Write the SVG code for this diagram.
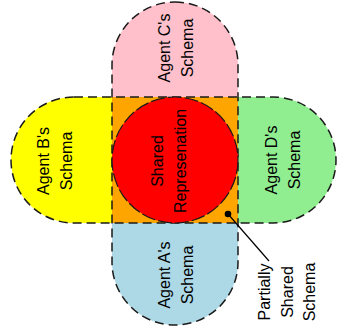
<svg xmlns="http://www.w3.org/2000/svg" width="337" height="336" viewBox="0 0 337 336">
  <style>
    .outline { fill: none; stroke: #1a1a1a; stroke-width: 1.5; stroke-dasharray: 9 5; }
    .lbl { font-family: "Liberation Sans", Arial, sans-serif; font-size: 16px; fill: #000; text-anchor: middle; }
  </style>
  <rect width="337" height="336" fill="#fff"/>
  <g id="agentC">
    <path d="M112,97 V65 A63,63 0 0 1 238,65 V97 Z" fill="#FFC0CB"/>
    <text class="lbl" transform="translate(175,48) rotate(-90)"><tspan x="0" y="-5">Agent C's</tspan><tspan x="0" y="18">Schema</tspan></text>
  </g>
  <g id="agentA">
    <path d="M112,223 V262 A63,63 0 0 0 238,262 V223 Z" fill="#ADD8E6"/>
    <text class="lbl" transform="translate(175,275) rotate(-90)"><tspan x="0" y="-5">Agent A's</tspan><tspan x="0" y="18">Schema</tspan></text>
  </g>
  <g id="agentB">
    <path d="M112,97 H74 A63,63 0 0 0 74,223 H112 Z" fill="#FFFF00"/>
    <text class="lbl" transform="translate(55,161) rotate(-90)"><tspan x="0" y="-6">Agent B's</tspan><tspan x="0" y="17">Schema</tspan></text>
  </g>
  <g id="agentD">
    <path d="M238,97 H273 A63,63 0 0 1 273,223 H238 Z" fill="#90EE90"/>
    <text class="lbl" transform="translate(283,160) rotate(-90)"><tspan x="0" y="-6">Agent D's</tspan><tspan x="0" y="17">Schema</tspan></text>
  </g>
  <g id="partiallyShared">
    <rect x="112" y="97" width="126" height="126" fill="#FFA500"/>
  </g>
  <g id="outlines">
    <rect class="outline" x="112" y="2" width="126" height="323" rx="63" ry="63"/>
    <rect class="outline" x="11" y="97" width="325" height="126" rx="63" ry="63"/>
  </g>
  <g id="shared">
    <circle cx="175" cy="160" r="63" fill="#FF0000" stroke="#1a1a1a" stroke-width="1.2" stroke-dasharray="14 3"/>
    <text class="lbl" transform="translate(169,161) rotate(-90)"><tspan x="0" y="-6">Shared</tspan><tspan x="0" y="17">Represenation</tspan></text>
  </g>
  <g id="connectors">
    <line x1="228" y1="214" x2="269" y2="261" stroke="#000" stroke-width="1.2"/>
    <circle cx="228" cy="214" r="3.3" fill="#000"/>
  </g>
  <g id="partiallyLabel">
    <text class="lbl" transform="translate(281,292) rotate(-90)"><tspan x="0" y="-11">Partially</tspan><tspan x="0" y="12">Shared</tspan><tspan x="0" y="34">Schema</tspan></text>
  </g>
</svg>
